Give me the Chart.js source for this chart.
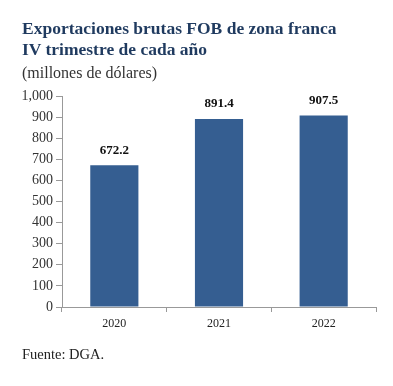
<!DOCTYPE html>
<html><head><meta charset="utf-8">
<script src="https://cdn.jsdelivr.net/npm/chart.js@4"></script>
<style>
html,body{margin:0;padding:0;background:#fff;width:393px;height:386px;overflow:hidden;}
#wrap{position:absolute;left:0;top:0;width:393px;height:386px;}
.t{position:absolute;left:22px;font-family:"Liberation Serif","DejaVu Serif",serif;white-space:nowrap;}
#t1{top:18px;font-size:17.5px;font-weight:bold;color:#1f3a5f;}
#t2{top:39px;font-size:17.5px;font-weight:bold;color:#1f3a5f;}
#t3{top:64px;font-size:16px;color:#333;}
#src{top:346px;font-size:14.5px;color:#222;}
</style></head>
<body>
<div id="wrap"><canvas id="c" width="393" height="386"></canvas></div>
<div class="t" id="t1">Exportaciones brutas FOB de zona franca</div>
<div class="t" id="t2">IV trimestre de cada año</div>
<div class="t" id="t3">(millones de dólares)</div>
<div class="t" id="src">Fuente: DGA.</div>
<script>
const categories = ["2020", "2021", "2022"];
const values = [672.2, 891.4, 907.5];
const yTicks = [0, 100, 200, 300, 400, 500, 600, 700, 800, 900, 1000];

const labelPlugin = {
  id: 'barLabels',
  afterDatasetsDraw(chart) {
    const ctx = chart.ctx;
    const meta = chart.getDatasetMeta(0);
    ctx.save();
    ctx.font = 'bold 13px "Liberation Serif", serif';
    ctx.fillStyle = '#111';
    ctx.textAlign = 'center';
    ctx.textBaseline = 'middle';
    meta.data.forEach((bar, i) => {
      ctx.fillText(values[i].toFixed(1), bar.x, bar.y - 15);
    });
    ctx.restore();
  }
};

new Chart(document.getElementById('c'), {
  type: 'bar',
  data: {
    labels: categories,
    datasets: [{
      data: values,
      backgroundColor: '#355e91',
      borderWidth: 0,
      categoryPercentage: 0.46,
      barPercentage: 1.0
    }]
  },
  options: {
    responsive: false,
    animation: false,
    devicePixelRatio: 1,
    layout: { padding: { top: 96, right: 17, left: 0, bottom: 0 } },
    plugins: { legend: { display: false }, tooltip: { enabled: false } },
    scales: {
      y: {
        min: 0, max: 1000,
        afterBuildTicks(scale) { scale.ticks = yTicks.map(v => ({ value: v })); },
        afterFit(scale) { scale.width = 62; },
        ticks: {
          font: { family: "'Liberation Serif', serif", size: 14 },
          color: '#333',
          padding: 3,
          callback: v => v.toLocaleString('en-US')
        },
        grid: { drawOnChartArea: false, tickLength: 6, color: '#999' },
        border: { color: '#999' }
      },
      x: {
        afterFit(scale) { scale.height = 79; },
        ticks: {
          font: { family: "'Liberation Serif', serif", size: 12 },
          color: '#222',
          padding: 5
        },
        grid: { drawOnChartArea: false, tickLength: 5, color: '#999', offset: true },
        border: { color: '#999' }
      }
    }
  },
  plugins: [labelPlugin]
});
</script>
</body></html>
